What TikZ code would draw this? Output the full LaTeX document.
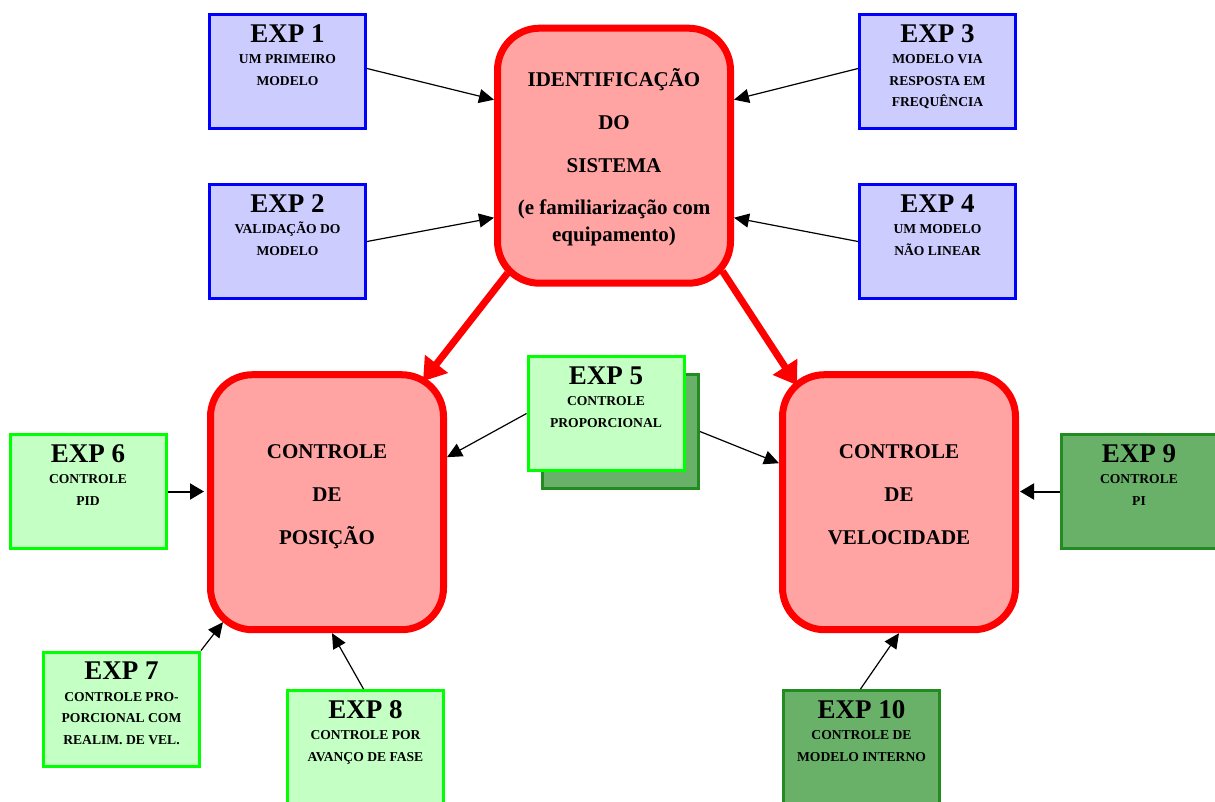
\documentclass[tikz,border=0pt]{standalone}
\usepackage{fontspec}
\setmainfont{Liberation Serif}
\usetikzlibrary{arrows.meta}

\definecolor{expblue}{HTML}{CCCCFF}
\definecolor{explight}{HTML}{C4FFC4}
\definecolor{expdark}{HTML}{69B069}
\definecolor{darkline}{HTML}{228B22}
\definecolor{blocfill}{HTML}{FFA3A3}

\newcommand{\exptext}[2]{\parbox[c][59pt][t]{150pt}{\centering\bfseries
  \fontsize{27}{27}\selectfont\leavevmode\smash{#1}\par
  \fontsize{13.6}{21.5}\selectfont #2\par}}
\newcommand{\bloctext}[1]{\parbox[c][87pt][t]{220pt}{\centering\bfseries
  \fontsize{21}{43}\selectfont #1\par}}

\begin{document}
\begin{tikzpicture}[x=1pt,y=-1pt,->,>={Triangle[length=15pt,width=14pt]},line width=1.2pt,
    expbox/.style={rectangle,draw,line width=3pt,inner sep=0pt,minimum width=156pt,minimum height=114pt},
    bluebox/.style={expbox,draw=blue,fill=expblue},
    lightbox/.style={expbox,draw=green,fill=explight},
    darkbox/.style={expbox,draw=darkline,fill=expdark},
    bloc/.style={rectangle,draw=red,fill=blocfill,line width=7pt,rounded corners=42pt,inner sep=0pt,
      minimum width=233pt,minimum height=255pt},
    bigarrow/.style={draw=red,line width=7pt,-{Triangle[length=22pt,width=28pt]}},
    sidearrow/.style={line width=2pt,-{Triangle[length=14pt,width=16pt]}}]

    \useasboundingbox (0,0) rectangle (1215,801);

    % central blocks
    \node[bloc] (id) at (614,155.7)
      {\parbox[c][138pt][t]{220pt}{\centering\bfseries\fontsize{21}{43}\selectfont
       \leavevmode\smash{IDENTIFICAÇÃO}\\DO\\SISTEMA\par\vspace{15pt}
       \fontsize{21}{27}\selectfont (e familiarização com\\equipamento)\par}};
    \node[bloc] (pos) at (327,502.2) {\bloctext{\leavevmode\smash{CONTROLE}\\DE\\POSIÇÃO}};
    \node[bloc] (vel) at (899,502.2) {\bloctext{\leavevmode\smash{CONTROLE}\\DE\\VELOCIDADE}};

    % experiments
    \node[bluebox] (e1) at (287.5,71.5) {\exptext{EXP 1}{UM PRIMEIRO\\MODELO}};
    \node[bluebox] (e2) at (287.5,241.5) {\exptext{EXP 2}{VALIDAÇÃO DO\\MODELO}};
    \node[bluebox] (e3) at (937.5,71.5) {\exptext{EXP 3}{MODELO VIA\\RESPOSTA EM\\FREQUÊNCIA}};
    \node[bluebox] (e4) at (937.5,241.5) {\exptext{EXP 4}{UM MODELO\\NÃO LINEAR}};
    \node[darkbox] (e5b) at (620.5,431.5) {};
    \node[lightbox] (e5) at (606,413.5) {\exptext{EXP 5}{CONTROLE\\PROPORCIONAL}};
    \node[lightbox] (e6) at (88,491.5) {\exptext{EXP 6}{CONTROLE\\PID}};
    \node[lightbox] (e7) at (121.5,709) {\exptext{EXP 7}{CONTROLE PRO-\\PORCIONAL COM\\REALIM. DE VEL.}};
    \node[lightbox] (e8) at (365.5,747.5) {\exptext{EXP 8}{CONTROLE POR\\AVANÇO DE FASE}};
    \node[darkbox] (e9) at (1139,491.5) {\exptext{EXP 9}{CONTROLE\\PI}};
    \node[darkbox] (e10) at (861.5,747.5) {\exptext{EXP 10}{CONTROLE DE\\MODELO INTERNO}};

    % red arrows
    \draw[bigarrow] ([xshift=13.5,yshift=13.5]id.south west) -- ([xshift=-24,yshift=-10]pos.north east);
    \draw[bigarrow] ([xshift=-11.5,yshift=15.5]id.south east) -- ([xshift=18,yshift=-14]vel.north west);

    % black arrows
    \draw ([yshift=3]e1.east) -- ([yshift=56]id.west);
    \draw (e2.east) -- ([yshift=-62]id.west);
    \draw ([yshift=3]e3.west) -- ([yshift=56]id.east);
    \draw (e4.west) -- ([yshift=-62]id.east);
    \draw (e5.west) -- ([yshift=45]pos.east);
    \draw (e5b.east) -- ([yshift=39]vel.west);
    \draw[sidearrow] (e6.east) -- ([xshift=-3]e6.east -| pos.west);
    \draw[sidearrow] (e9.west) -- ([xshift=1]e9.west -| vel.east);
    \draw (e7.north east) -- ([xshift=16,yshift=11]pos.south west);
    \draw ([xshift=-2]e8.north) -- ([xshift=5]pos.south);
    \draw ([xshift=-1]e10.north) -- (vel.south);
\end{tikzpicture}
\end{document}
